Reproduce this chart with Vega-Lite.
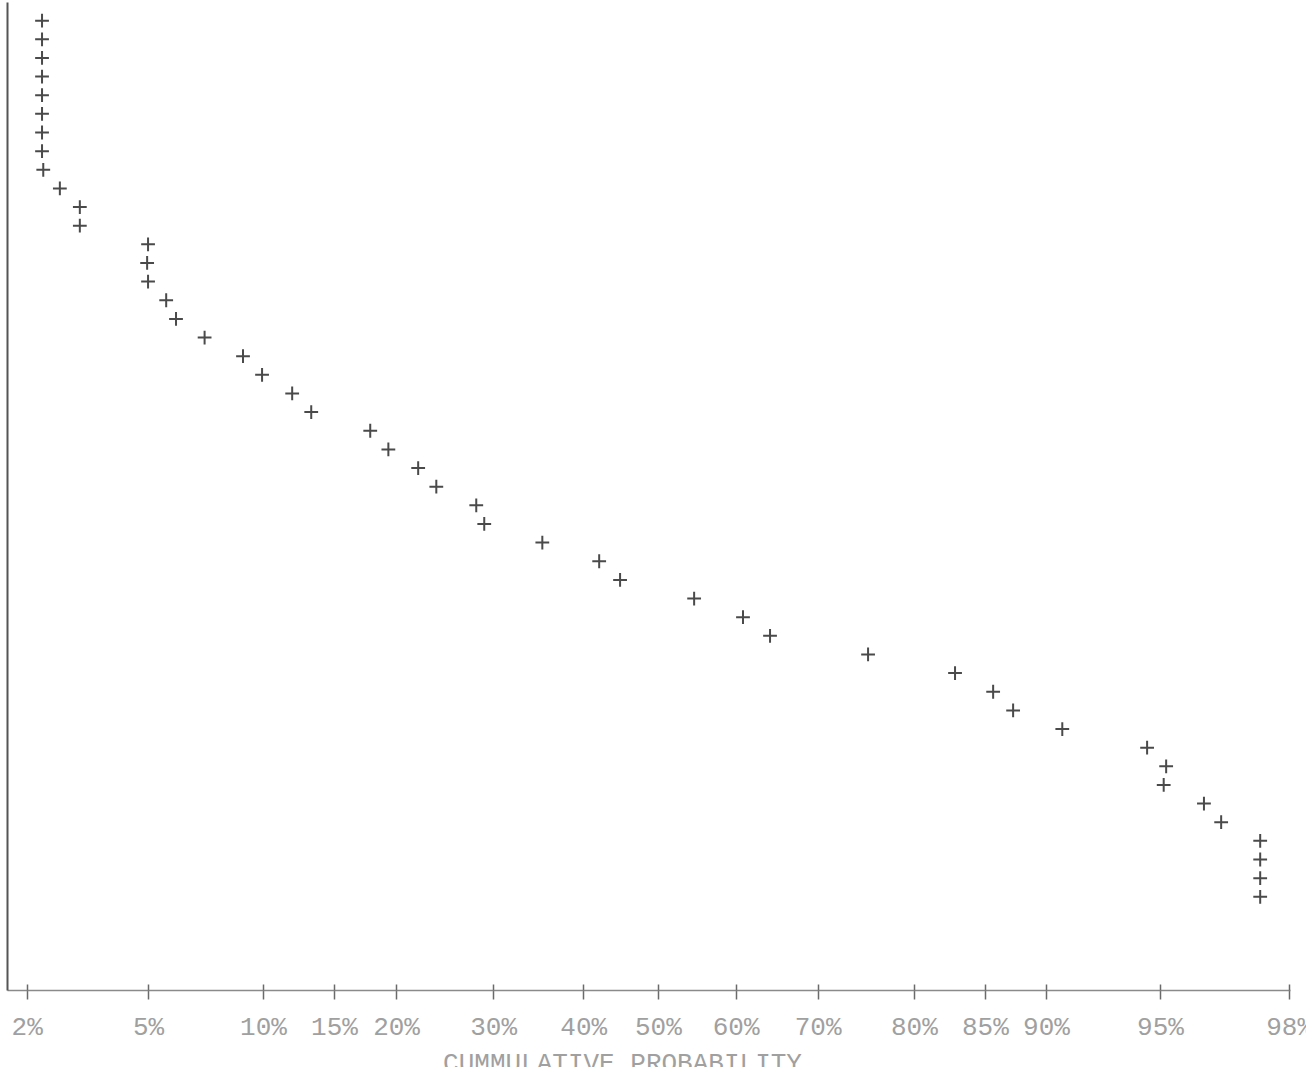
{
  "$schema": "https://vega.github.io/schema/vega-lite/v6.json",
  "width": 1283,
  "height": 988,
  "autosize": "none",
  "padding": {"left": 7, "top": 2, "right": 16, "bottom": 77},
  "background": "#ffffff",
  "config": {"view": {"stroke": null}, "axis": {"grid": false}},
  "data": {
    "values": [
      {"z": -2.004, "value": 52},
      {"z": -2.004, "value": 51},
      {"z": -2.004, "value": 50},
      {"z": -2.004, "value": 49},
      {"z": -2.004, "value": 48},
      {"z": -2.004, "value": 47},
      {"z": -2.004, "value": 46},
      {"z": -2.004, "value": 45},
      {"z": -2.000, "value": 44},
      {"z": -1.946, "value": 43},
      {"z": -1.881, "value": 42},
      {"z": -1.881, "value": 41},
      {"z": -1.659, "value": 40},
      {"z": -1.662, "value": 39},
      {"z": -1.659, "value": 38},
      {"z": -1.600, "value": 37},
      {"z": -1.568, "value": 36},
      {"z": -1.475, "value": 35},
      {"z": -1.350, "value": 34},
      {"z": -1.288, "value": 33},
      {"z": -1.190, "value": 32},
      {"z": -1.128, "value": 31},
      {"z": -0.936, "value": 30},
      {"z": -0.877, "value": 29},
      {"z": -0.780, "value": 28},
      {"z": -0.721, "value": 27},
      {"z": -0.591, "value": 26},
      {"z": -0.565, "value": 25},
      {"z": -0.376, "value": 24},
      {"z": -0.191, "value": 23},
      {"z": -0.123, "value": 22},
      {"z": 0.118, "value": 21},
      {"z": 0.277, "value": 20},
      {"z": 0.365, "value": 19},
      {"z": 0.684, "value": 18},
      {"z": 0.967, "value": 17},
      {"z": 1.091, "value": 16},
      {"z": 1.156, "value": 15},
      {"z": 1.316, "value": 14},
      {"z": 1.592, "value": 13},
      {"z": 1.654, "value": 12},
      {"z": 1.646, "value": 11},
      {"z": 1.777, "value": 10},
      {"z": 1.833, "value": 9},
      {"z": 1.960, "value": 8},
      {"z": 1.960, "value": 7},
      {"z": 1.960, "value": 6},
      {"z": 1.960, "value": 5}
    ]
  },
  "layer": [
    {
      "mark": {
        "type": "point",
        "shape": "M-1,0L1,0M0,-1L0,1",
        "filled": false,
        "stroke": "#4a4a4a",
        "strokeWidth": 2,
        "size": 190,
        "opacity": 1
      },
      "encoding": {
        "x": {
          "field": "z",
          "type": "quantitative",
          "scale": {"domain": [-2.118, 2.057], "nice": false, "zero": false},
          "axis": {
            "orient": "bottom",
            "values": [-2.054, -1.659, -1.285, -1.054, -0.852, -0.536, -0.243, 0.0, 0.253, 0.52, 0.833, 1.064, 1.263, 1.634, 2.054],
            "labelExpr": "datum.value < -1.9 ? '2%' : datum.value < -1.5 ? '5%' : datum.value < -1.2 ? '10%' : datum.value < -1.0 ? '15%' : datum.value < -0.7 ? '20%' : datum.value < -0.4 ? '30%' : datum.value < -0.1 ? '40%' : datum.value < 0.1 ? '50%' : datum.value < 0.4 ? '60%' : datum.value < 0.7 ? '70%' : datum.value < 0.95 ? '80%' : datum.value < 1.15 ? '85%' : datum.value < 1.4 ? '90%' : datum.value < 1.8 ? '95%' : '98%'",
            "domain": true,
            "domainColor": "#8a8a8a",
            "domainWidth": 1.5,
            "ticks": true,
            "tickColor": "#6a6a6a",
            "tickWidth": 1.5,
            "tickSize": 9,
            "labelFont": "Liberation Mono",
            "labelFontSize": 26,
            "labelColor": "#a0a0a0",
            "labelPadding": 14,
            "labelFlush": false,
            "labelOverlap": false,
            "labelBound": false,
            "title": "CUMMULATIVE PROBABILITY",
            "titleFont": "Liberation Mono",
            "titleFontSize": 26,
            "titleFontWeight": "normal",
            "titleColor": "#a0a0a0",
            "titleX": 615,
            "titlePadding": 10
          }
        },
        "y": {
          "field": "value",
          "type": "quantitative",
          "scale": {"domain": [0, 53], "nice": false, "zero": false},
          "axis": {
            "orient": "left",
            "domain": true,
            "domainColor": "#555555",
            "domainWidth": 2,
            "ticks": false,
            "labels": false,
            "title": null
          }
        }
      }
    },
    {
      "mark": {"type": "point", "opacity": 0},
      "encoding": {
        "x": {
          "field": "z",
          "type": "quantitative",
          "axis": {
            "orient": "bottom",
            "offset": -6,
            "values": [-2.054, -1.659, -1.285, -1.054, -0.852, -0.536, -0.243, 0.0, 0.253, 0.52, 0.833, 1.064, 1.263, 1.634, 2.054],
            "domain": false,
            "labels": false,
            "ticks": true,
            "tickColor": "#6a6a6a",
            "tickWidth": 1.5,
            "tickSize": 6,
            "title": null
          }
        }
      }
    }
  ],
  "resolve": {"axis": {"x": "independent"}}
}
